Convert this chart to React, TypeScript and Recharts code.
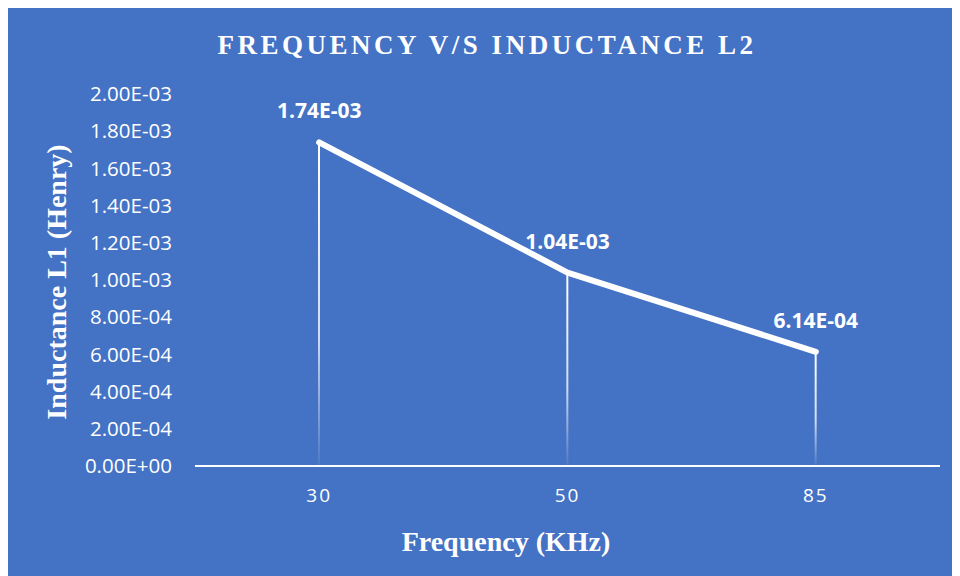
import { ComposedChart, Bar, Line, XAxis, YAxis, LabelList } from "recharts";

const frequencies = ["30", "50", "85"];
const inductance = [1.74e-3, 1.04e-3, 6.14e-4];
const yTicks = [0, 2e-4, 4e-4, 6e-4, 8e-4, 1e-3, 1.2e-3, 1.4e-3, 1.6e-3, 1.8e-3, 2e-3];

const data = frequencies.map((f, i) => ({ freq: f, value: inductance[i] }));

// Excel-style scientific notation: 1.74E-03
const sci = (v: number) => {
  const [m, e] = v.toExponential(2).toUpperCase().split("E");
  const sign = e.startsWith("-") ? "-" : "+";
  const digits = e.replace(/[+-]/, "").padStart(2, "0");
  return `${m}E${sign}${digits}`;
};

const BG = "#4472C4";
const sans = "'Open Sans', 'Liberation Sans', sans-serif";
const serif = "'Liberation Serif', 'Times New Roman', serif";

export default function App() {
  return (
    <div style={{ position: "relative", width: 952, height: 568, background: BG }}>
      <div
        style={{
          position: "absolute",
          top: 22,
          left: 0,
          width: 958,
          textAlign: "center",
          fontFamily: serif,
          fontWeight: "bold",
          fontSize: 27,
          letterSpacing: 3.5,
          color: "#fff",
        }}
      >
        FREQUENCY V/S INDUCTANCE L2
      </div>
      <ComposedChart
        width={952}
        height={568}
        data={data}
        margin={{ top: 86, right: 20, bottom: 80, left: 0 }}
      >
        <defs>
          <linearGradient id="dropFade" x1="0" y1="0" x2="0" y2="1">
            <stop offset="0%" stopColor="#fff" stopOpacity={1} />
            <stop offset="60%" stopColor="#fff" stopOpacity={0.75} />
            <stop offset="100%" stopColor="#fff" stopOpacity={0.05} />
          </linearGradient>
        </defs>
        <XAxis
          dataKey="freq"
          height={30}
          axisLine={{ stroke: "#fff", strokeWidth: 2 }}
          tickLine={false}
          tickMargin={17}
          tick={{ fill: "#fff", fontSize: 19, fontFamily: sans, letterSpacing: 2 }}
        />
        <YAxis
          width={187}
          domain={[0, 2e-3]}
          ticks={yTicks}
          tickFormatter={sci}
          axisLine={false}
          tickLine={false}
          tickMargin={17}
          tick={{ fill: "#fff", fontSize: 20.5, fontFamily: sans }}
        />
        <Bar dataKey="value" barSize={2} fill="url(#dropFade)" isAnimationActive={false} />
        <Line
          dataKey="value"
          type="linear"
          stroke="#fff"
          strokeWidth={6}
          strokeLinecap="round"
          strokeLinejoin="round"
          dot={false}
          activeDot={false}
          isAnimationActive={false}
        >
          <LabelList
            dataKey="value"
            position="top"
            offset={24}
            formatter={(v: any) => sci(Number(v))}
            style={{ fill: "#fff", fontSize: 21, fontWeight: "bold", fontFamily: sans }}
          />
        </Line>
      </ComposedChart>
      <div
        style={{
          position: "absolute",
          left: 49,
          top: 274,
          width: 0,
          height: 0,
        }}
      >
        <div
          style={{
            position: "absolute",
            transform: "translate(-50%, -50%) rotate(-90deg)",
            whiteSpace: "nowrap",
            fontFamily: serif,
            fontWeight: "bold",
            fontSize: 28,
            color: "#fff",
          }}
        >
          Inductance L1 (Henry)
        </div>
      </div>
      <div
        style={{
          position: "absolute",
          left: 298,
          top: 518,
          width: 400,
          textAlign: "center",
          fontFamily: serif,
          fontWeight: "bold",
          fontSize: 28,
          color: "#fff",
        }}
      >
        Frequency (KHz)
      </div>
    </div>
  );
}
